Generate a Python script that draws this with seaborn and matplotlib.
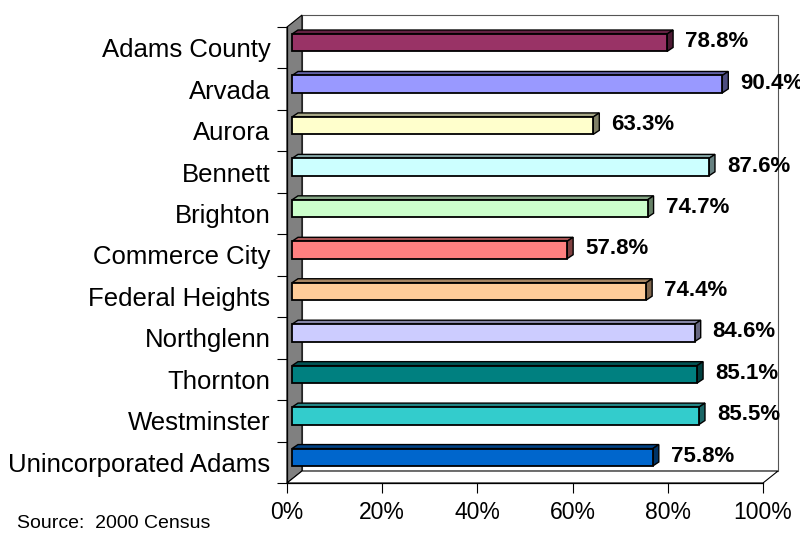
import numpy as np
import pandas as pd
import seaborn as sns
import matplotlib.pyplot as plt
from matplotlib.patches import Polygon
from matplotlib.transforms import IdentityTransform, offset_copy

places = ['Adams County', 'Arvada', 'Aurora', 'Bennett', 'Brighton',
          'Commerce City', 'Federal Heights', 'Northglenn', 'Thornton',
          'Westminster', 'Unincorporated Adams']
rates = [78.8, 90.4, 63.3, 87.6, 74.7, 57.8, 74.4, 84.6, 85.1, 85.5, 75.8]
colors = ['#993366', '#9999FF', '#FFFFCC', '#CCFFFF', '#CCFFCC', '#FF8080',
          '#FFCC99', '#CCCCFF', '#008080', '#33CCCC', '#0066CC']
x_ticks = [0, 20, 40, 60, 80, 100]
source_note = 'Source:  2000 Census'

W, H = 800, 534
DX, DY = 15, 12        # depth of the chart walls, px
BX, BY = 6, 4          # depth of each bar, px
SX, SY = 5, 5          # bars sit a bit behind the front plane

df = pd.DataFrame({'place': places, 'rate': rates})

sns.set_style('white')
plt.rcParams['font.family'] = ['Liberation Sans', 'DejaVu Sans']
plt.rcParams['text.color'] = 'black'
plt.rcParams['xtick.color'] = 'black'
plt.rcParams['ytick.color'] = 'black'

fig = plt.figure(figsize=(W / 100, H / 100), dpi=100)
ax = fig.add_axes([287 / W, (H - 483) / H, 476 / W, 456 / H])
ax.patch.set_visible(False)

sns.barplot(data=df, x='rate', y='place', hue='place', palette=colors,
            saturation=1, legend=False, orient='h', width=0.42,
            edgecolor='black', linewidth=1.3, ax=ax, zorder=3)

ax.set_xlim(0, 100)
ax.set_ylim(len(places) - 0.5, -0.5)
ax.set_xticks(x_ticks)
ax.set_xticklabels([f'{t}%' for t in x_ticks])
ax.set_yticks(np.arange(-0.5, len(places)), minor=True)
ax.tick_params(axis='x', direction='out', length=7.2, width=0.8,
               bottom=True, labelsize=16.5, pad=6)
ax.tick_params(axis='y', which='major', length=0, labelsize=18.5, pad=12)
ax.tick_params(axis='y', which='minor', direction='out', length=7.2,
               width=0.8, left=True)
ax.set_xlabel('')
ax.set_ylabel('')
for s in ['top', 'right']:
    ax.spines[s].set_visible(False)
for s in ['left', 'bottom']:
    ax.spines[s].set_color('black')
    ax.spines[s].set_linewidth(0.9)

# 3d box: back wall, left wall, floor
x0, y0, x1, y1 = ax.bbox.extents
ident = IdentityTransform()
back = Polygon([(x0 + DX, y0 + DY), (x1 + DX, y0 + DY), (x1 + DX, y1 + DY),
                (x0 + DX, y1 + DY)], closed=True, facecolor='white',
               edgecolor='#555555', linewidth=0.8, transform=ident, zorder=-3)
wall = Polygon([(x0, y0), (x0, y1), (x0 + DX, y1 + DY), (x0 + DX, y0 + DY)],
               closed=True, facecolor='#808080', edgecolor='black',
               linewidth=0.8, transform=ident, zorder=-2)
floor = Polygon([(x0, y0), (x1, y0), (x1 + DX, y0 + DY), (x0 + DX, y0 + DY)],
                closed=True, facecolor='white', edgecolor='black',
                linewidth=0.8, transform=ident, zorder=-2)
for p in [back, wall, floor]:
    fig.add_artist(p)

# bars pushed back a little, plus top and side faces
shift = offset_copy(ax.transData, fig=fig, x=SX, y=SY, units='dots')
for bar, c in zip(ax.patches, colors):
    bar.set_transform(shift)
    bx, by, bw, bh = bar.get_x(), bar.get_y(), bar.get_width(), bar.get_height()
    (xl, yb), (xr, yt) = shift.transform([(bx, by + bh), (bx + bw, by)])
    rgb = np.array(plt.matplotlib.colors.to_rgb(c))
    top = Polygon([(xl, yt), (xr, yt), (xr + BX, yt + BY), (xl + BX, yt + BY)],
                  closed=True, facecolor=rgb * 0.65, edgecolor='black',
                  linewidth=1.0, transform=ident, zorder=2.5, clip_on=False)
    side = Polygon([(xr, yb), (xr, yt), (xr + BX, yt + BY), (xr + BX, yb + BY)],
                   closed=True, facecolor=rgb * 0.5, edgecolor='black',
                   linewidth=1.0, transform=ident, zorder=2.5, clip_on=False)
    ax.add_artist(top)
    ax.add_artist(side)

for i, v in enumerate(rates):
    ax.annotate(f'{v}%', xy=(v, i), xytext=(SX + 18, SY + 1),
                textcoords='offset pixels', ha='left', va='center',
                fontsize=16, fontweight='bold', annotation_clip=False)

fig.text(17 / W, 1 - 523 / H, source_note, fontsize=14, va='center')

plt.savefig('out.png', dpi=100)
